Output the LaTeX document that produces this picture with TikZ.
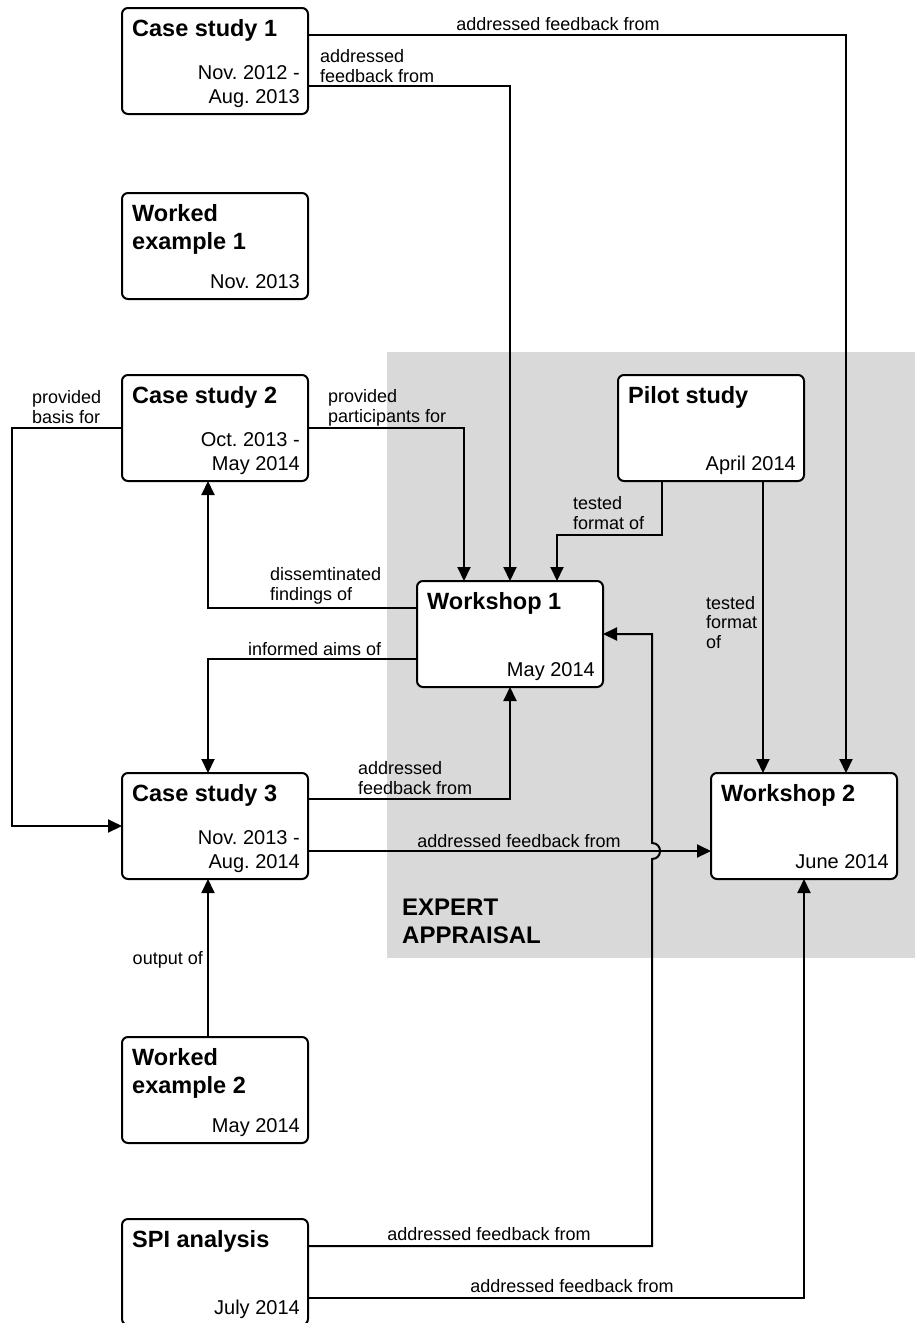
\documentclass[tikz,border=0pt]{standalone}
\usepackage{fontspec}
\setmainfont{Liberation Sans}
\usetikzlibrary{arrows.meta}
\frenchspacing
\definecolor{appraisalgrey}{RGB}{217,217,217}
\tikzset{
  stage/.style={draw=black, line width=2pt, rounded corners=6pt, fill=white,
    minimum width=186pt, minimum height=106pt, inner sep=0pt, outer sep=0pt,
    anchor=north west},
  stagetitle/.style={font=\fontsize{23.5}{28}\selectfont\bfseries, align=left,
    anchor=base west, inner sep=0pt},
  stagedate/.style={font=\fontsize{20}{24}\selectfont, align=right,
    anchor=base east, inner sep=0pt},
  flow/.style={line width=2pt, -{Triangle[length=14pt,width=13pt]}},
  flowlabel/.style={font=\fontsize{18}{19.5}\selectfont, inner sep=0pt},
  region/.style={fill=appraisalgrey, draw=none, inner sep=0pt, outer sep=0pt,
    anchor=north west, minimum width=528pt, minimum height=606pt},
  regionlabel/.style={font=\fontsize{24}{28}\selectfont\bfseries, align=left,
    anchor=base west, inner sep=0pt},
}
% #1 name, #2 x, #3 y, #4 title, #5 date, #6 depth of the title's last baseline below the top edge
\newcommand\stagenode[6]{%
  \node[stage] (#1) at (#2,#3) {};
  \node[stagetitle] (#1-title) at ([xshift=10pt,yshift=-#6pt]#1.north west) {#4};
  \node[stagedate] (#1-date) at ([xshift=-8pt,yshift=11pt]#1.south east) {#5};
}
\begin{document}
\begin{tikzpicture}[x=1pt,y=-1pt]
\clip (0,0) rectangle (915,1323);
\fill[white] (0,0) rectangle (915,1323);

% expert appraisal area
\node[region] (appraisal) at (387,352) {};
\node[regionlabel] (appraisal-label) at (402,943) {EXPERT\\APPRAISAL};

% stages
\stagenode{cs1}{122}{8}{Case study 1}{Nov. 2012 -\\Aug. 2013}{28}
\stagenode{we1}{122}{193}{Worked\\example 1}{Nov. 2013}{56}
\stagenode{cs2}{122}{375}{Case study 2}{Oct. 2013 -\\May 2014}{28}
\stagenode{pilot}{618}{375}{Pilot study}{April 2014}{28}
\stagenode{ws1}{417}{581}{Workshop 1}{May 2014}{28}
\stagenode{cs3}{122}{773}{Case study 3}{Nov. 2013 -\\Aug. 2014}{28}
\stagenode{ws2}{711}{773}{Workshop 2}{June 2014}{28}
\stagenode{we2}{122}{1037}{Worked\\example 2}{May 2014}{56}
\stagenode{spi}{122}{1219}{SPI analysis}{July 2014}{28}

% connectors
\draw[flow] ([yshift=-27pt]cs1.north east) -| ([xshift=42pt]ws2.north);
\draw[flow] ([yshift=-78pt]cs1.north east) -| (ws1.north);
\draw[flow] (cs2.east) -| ([xshift=-46pt]ws1.north);
\draw[flow] (cs2.west) -- ++(-110,0) |- (cs3.west);
\draw[flow] ([xshift=-49pt]pilot.south) -- ++(0,54) -| ([xshift=47pt]ws1.north);
\draw[flow] ([xshift=52pt]pilot.south) -- ([xshift=-41pt]ws2.north);
\draw[flow] ([yshift=-27pt]ws1.north west) -| ([xshift=-7pt]cs2.south);
\draw[flow] ([yshift=-78pt]ws1.north west) -| ([xshift=-7pt]cs3.north);
\draw[flow] ([yshift=-26pt]cs3.north east) -| (ws1.south);
\draw[flow] ([yshift=-78pt]cs3.north east) -- ([yshift=-78pt]ws2.north west);
\draw[flow] ([xshift=-7pt]we2.north) -- ([xshift=-7pt]cs3.south);
\coordinate (hopbelow) at (652,859);
\coordinate (hopabove) at (652,843);
\draw[flow] ([yshift=-27pt]spi.north east) -| (hopbelow)
  .. controls (662.7,859) and (662.7,843) .. (hopabove) |- (ws1.east);
\draw[flow] ([yshift=-79pt]spi.north east) -| (ws2.south);

% connector labels (anchored at the baseline of their last line)
\node[flowlabel, anchor=base] (lab-cs1-ws2) at (558,30) {addressed feedback from};
\node[flowlabel, anchor=base west, align=left] (lab-cs1-ws1) at (320,82) {addressed\\feedback from};
\node[flowlabel, anchor=base west, align=left] (lab-cs2-ws1) at (328,422) {provided\\participants for};
\node[flowlabel, anchor=base west, align=left] (lab-cs2-cs3) at (32,423) {provided\\basis for};
\node[flowlabel, anchor=base west, align=left] (lab-pilot-ws1) at (573,529) {tested\\format of};
\node[flowlabel, anchor=base west, align=left] (lab-pilot-ws2) at (706,648) {tested\\format\\of};
\node[flowlabel, anchor=base west, align=left] (lab-ws1-cs2) at (270,600) {dissemtinated\\findings of};
\node[flowlabel, anchor=base west] (lab-ws1-cs3) at (248,655) {informed aims of};
\node[flowlabel, anchor=base west, align=left] (lab-cs3-ws1) at (358,794) {addressed\\feedback from};
\node[flowlabel, anchor=base] (lab-cs3-ws2) at (519,847) {addressed feedback from};
\node[flowlabel, anchor=base] (lab-spi-ws1) at (489,1240) {addressed feedback from};
\node[flowlabel, anchor=base] (lab-spi-ws2) at (572,1292) {addressed feedback from};
\node[flowlabel, anchor=base east] (lab-we2-cs3) at (203,964) {output of};
\end{tikzpicture}
\end{document}
